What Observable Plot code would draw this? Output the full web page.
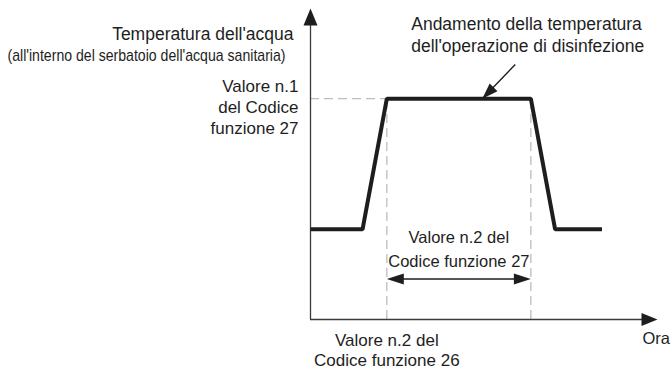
<!DOCTYPE html>
<html><head><meta charset="utf-8">
<script src="https://cdn.jsdelivr.net/npm/d3@7"></script>
<script src="https://cdn.jsdelivr.net/npm/@observablehq/plot@0.6"></script>
<style>html,body{margin:0;padding:0;background:#fff;}</style>
</head><body><div id="chart"></div>
<script>
// ---- Data (abstract time / temperature units) ----
const curveTime = [0, 15, 22, 63.5, 70.5, 84];
const curveTemp = [29, 29, 71, 71, 29, 29];
const axisMax = 100;
const setpointTemp = 71;        // Valore n.1 del Codice funzione 27
const disinfectionStart = 22;   // Valore n.2 del Codice funzione 26
const disinfectionEnd = 63.5;   // end of the disinfection period
const durationLevel = 13;       // level of the duration arrow
const pointerFrom = [59, 82];   // annotation pointer start (time, temp)
const pointerTo = [49.5, 71];   // annotation pointer tip (on the plateau)

// ---- Text ----
const yTitle = "Temperatura dell'acqua";
const ySubtitle = "(all'interno del serbatoio dell'acqua sanitaria)";
const xTitle = "Ora";
const setpointLabel = ["Valore n.1", "del Codice", "funzione 27"];
const durationLabel = ["Valore n.2 del", "Codice funzione 27"];
const startLabel = ["Valore n.2 del", "Codice funzione 26"];
const curveLabel = ["Andamento della temperatura", "dell'operazione di disinfezione"];

const curve = curveTime.map((t, i) => ({t, v: curveTemp[i]}));

// filled triangular arrow head with its tip at the symbol origin
function head(angle, len, half) {
  const c = Math.cos(angle), s = Math.sin(angle);
  return {draw(ctx) {
    const bx = -len * c, by = -len * s, px = -s * half, py = c * half;
    ctx.moveTo(0, 0);
    ctx.lineTo(bx + px, by + py);
    ctx.lineTo(bx - px, by - py);
    ctx.closePath();
  }};
}

const ink = "#1e1e1e";
const axisInk = "#3a3a3a";
const dashInk = "#bdbdbd";
const font = "'Liberation Sans', Arial, Helvetica, sans-serif";

const plot = Plot.plot({
  width: 671,
  height: 371,
  marginLeft: 310,
  marginRight: 14,
  marginTop: 8,
  marginBottom: 52,
  x: {domain: [0, axisMax], axis: null},
  y: {domain: [0, axisMax], axis: null},
  style: {fontFamily: font, background: "#fff", color: ink, overflow: "visible"},
  marks: [
    // dashed guides
    Plot.ruleX([disinfectionStart, disinfectionEnd], {x: d => d, y1: 0, y2: setpointTemp, stroke: dashInk, strokeWidth: 1.3, strokeDasharray: "9,5"}),
    Plot.ruleY([setpointTemp], {y: d => d, x1: 0, x2: disinfectionStart, stroke: dashInk, strokeWidth: 1.3, strokeDasharray: "9,5"}),
    // axes
    Plot.ruleX([0], {x: d => d, y1: 0, y2: axisMax - 3, stroke: axisInk, strokeWidth: 1.3}),
    Plot.ruleY([0], {y: d => d, x1: 0, x2: axisMax - 3, stroke: axisInk, strokeWidth: 1.3}),
    Plot.dot([0], {x: 0, y: axisMax, symbol: head(-Math.PI / 2, 17, 7), fill: ink}),
    Plot.dot([0], {x: axisMax, y: 0, symbol: head(0, 16, 6.5), fill: ink}),
    // temperature curve
    Plot.line(curve, {x: "t", y: "v", stroke: ink, strokeWidth: 4, strokeLinejoin: "miter", strokeLinecap: "butt"}),
    // duration double arrow
    Plot.ruleY([durationLevel], {y: d => d, x1: disinfectionStart + 3, x2: disinfectionEnd - 3, stroke: ink, strokeWidth: 1.5}),
    Plot.dot([0], {x: disinfectionStart, y: durationLevel, symbol: head(Math.PI, 17, 5.5), fill: ink}),
    Plot.dot([0], {x: disinfectionEnd, y: durationLevel, symbol: head(0, 17, 5.5), fill: ink}),
    // annotation pointer
    Plot.link([0], {x1: pointerFrom[0], y1: pointerFrom[1], x2: pointerTo[0], y2: pointerTo[1], stroke: ink, strokeWidth: 1.4}),
    Plot.dot([0], {x: pointerTo[0], y: pointerTo[1], symbol: head(3 * Math.PI / 4, 16, 5.5), fill: ink}),
    // texts
    Plot.text([yTitle], {x: 0, y: axisMax, text: d => d, textAnchor: "end", lineAnchor: "bottom", dx: -17, dy: 31, fontSize: 17.5, fill: ink}),
    Plot.text([ySubtitle], {x: 0, y: axisMax, text: d => d, textAnchor: "end", lineAnchor: "bottom", dx: -25, dy: 52, fontSize: 17, fill: ink}),
    Plot.text([setpointLabel.join("\n")], {x: 0, y: setpointTemp, text: d => d, textAnchor: "end", lineAnchor: "bottom", dx: -12, dy: 35, fontSize: 17, lineHeight: 1.22, fill: ink}),
    Plot.text([durationLabel.join("\n")], {x: (disinfectionStart + disinfectionEnd) / 2, y: durationLevel, text: d => d, textAnchor: "middle", lineAnchor: "bottom", dy: -12.5, fontSize: 16.5, lineHeight: 1.4, fill: ink}),
    Plot.text([startLabel.join("\n")], {x: disinfectionStart, y: 0, text: d => d, textAnchor: "middle", lineAnchor: "bottom", dy: 46, fontSize: 17, lineHeight: 1.12, fill: ink}),
    Plot.text([xTitle], {x: axisMax, y: 0, text: d => d, textAnchor: "start", lineAnchor: "bottom", dx: -15, dy: 24, fontSize: 16.5, fill: ink}),
    Plot.text([curveLabel.join("\n")], {x: pointerFrom[0], y: pointerFrom[1], text: d => d, textAnchor: "start", lineAnchor: "bottom", dx: -104, dy: -12, fontSize: 17.5, lineHeight: 1.26, fill: ink})
  ]
});

// condensed subtitle, as in the original artwork
d3.select(plot).selectAll("text").filter(function () { return this.textContent === ySubtitle; })
  .attr("textLength", 278).attr("lengthAdjust", "spacingAndGlyphs");

document.getElementById("chart").appendChild(plot);
</script>
</body></html>
